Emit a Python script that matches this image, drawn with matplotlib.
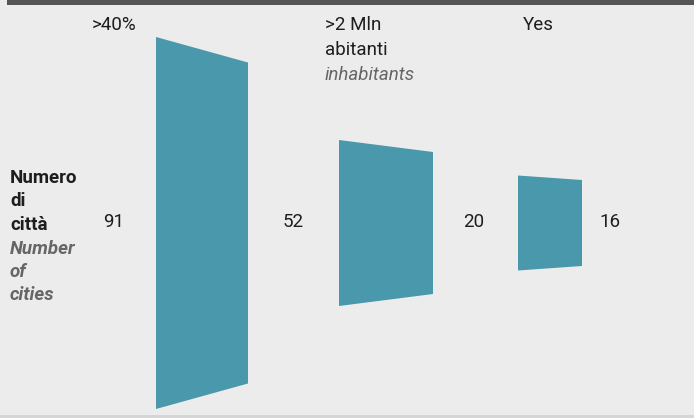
import matplotlib
matplotlib.use("Agg")
import matplotlib.pyplot as plt
from matplotlib.patches import Polygon, Rectangle

# ---- data ----
stage_labels = [">40%", ">2 Mln\nabitanti", "Yes"]
stage_sublabels = ["", "inhabitants", ""]
counts = [91, 52, 20, 16]
# funnel segment heights (left edge, right edge)
seg_left_height = [372, 166, 95]
seg_right_height = [321, 142, 86]

row_label_it = "Numero\ndi\ncittà"
row_label_en = "Number\nof\ncities"

# ---- layout ----
W, H = 694, 418
bg = "#ececec"
teal = "#4a98ab"
dark = "#1e1e1e"
grey = "#666666"
font = ["Roboto", "DejaVu Sans"]
fs = 13.5

fig = plt.figure(figsize=(W / 100, H / 100), dpi=100, facecolor=bg)
ax = fig.add_axes([0, 0, 1, 1])
ax.set_xlim(0, W)
ax.set_ylim(H, 0)
ax.axis("off")
ax.set_facecolor(bg)

# top dark band and faint bottom rule
ax.add_patch(Rectangle((7, 0), W - 7, 5, color="#555555", lw=0))
ax.add_patch(Rectangle((0, 415), W, 3, color="#d6d6d6", lw=0))

center_y = 223
seg_x = [(156, 248), (339, 433), (518, 582)]
count_x = [114, 293, 474, 610]
stage_x = [92, 325, 523]

for (x0, x1), hl, hr in zip(seg_x, seg_left_height, seg_right_height):
    poly = Polygon([(x0, center_y - hl / 2), (x1, center_y - hr / 2),
                    (x1, center_y + hr / 2), (x0, center_y + hl / 2)],
                   closed=True, facecolor=teal, edgecolor="none")
    ax.add_patch(poly)

for x, c in zip(count_x, counts):
    ax.text(x, center_y - 1, str(c), ha="center", va="center", fontsize=fs,
            color=dark, family=font)

for x, lab, sub in zip(stage_x, stage_labels, stage_sublabels):
    lines = lab.split("\n")
    for i, ln in enumerate(lines):
        ax.text(x, 23 + i * 25, ln, ha="left", va="center_baseline",
                fontsize=fs, color=dark, family=font)
    if sub:
        ax.text(x, 23 + len(lines) * 25, sub, ha="left", va="center_baseline",
                fontsize=fs, color=grey, style="italic", family=font)

y = 176
for ln in row_label_it.split("\n"):
    ax.text(10, y, ln, ha="left", va="center_baseline", fontsize=fs,
            color=dark, fontweight="bold", family=font)
    y += 23.5
for ln in row_label_en.split("\n"):
    ax.text(10, y, ln, ha="left", va="center_baseline", fontsize=fs,
            color=grey, fontweight="bold", style="italic", family=font)
    y += 23.5

fig.savefig("out.png", dpi=100, facecolor=bg)
